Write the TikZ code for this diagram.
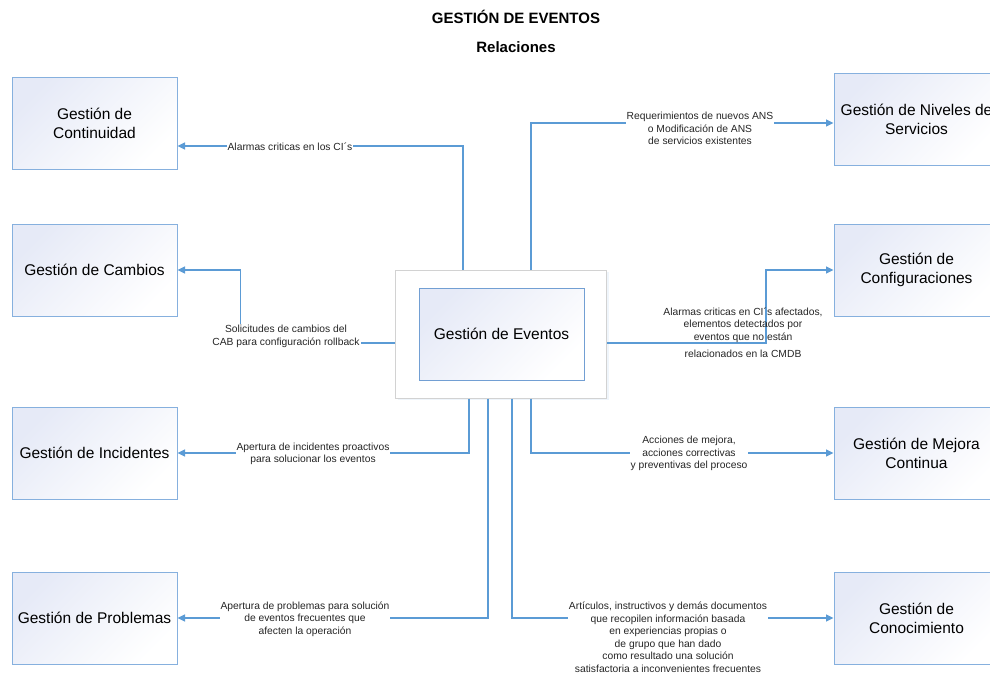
\documentclass[tikz,border=0pt]{standalone}
\usepackage{fontspec}
\setmainfont{Liberation Sans}
\usetikzlibrary{arrows.meta,shadows}
\definecolor{lineblue}{HTML}{5B9BD5}
\definecolor{boxedge}{HTML}{86B0DE}
\definecolor{inneredge}{HTML}{729FD3}
\definecolor{boxtop}{HTML}{E6EAF7}
\definecolor{outeredge}{HTML}{D2D2D2}
\definecolor{labeltext}{HTML}{262626}
\tikzset{
  procbox/.style={draw=boxedge, line width=1pt, top color=boxtop, bottom color=white,
    shading angle=45, minimum width=165pt, minimum height=92pt, align=center,
    font=\fontsize{15.5}{19}\selectfont, inner sep=0pt},
  outerbox/.style={draw=outeredge, line width=1pt, fill=white, minimum width=211pt,
    minimum height=128pt, inner sep=0pt,
    drop shadow={shadow xshift=2pt, shadow yshift=-2pt, fill=lineblue!12, opacity=0.8}},
  titletext/.style={font=\fontsize{15}{18}\selectfont\bfseries, inner sep=0pt},
  conn/.style={draw=lineblue, line width=1.2pt, -{Triangle[length=7.5pt,width=7pt]}},
  lbl/.style={font=\fontsize{10.3}{12.5}\selectfont, text=labeltext, align=center, inner sep=1pt},
  lblw/.style={lbl, fill=white}
}
\begin{document}
\begin{tikzpicture}[x=1pt,y=-1pt]
\clip (0,0) rectangle (990,673);
\fill[white] (0,0) rectangle (990,673);
% titles
\node[titletext] (t1) at (516,17) {GESTIÓN DE EVENTOS};
\node[titletext] (t2) at (516,47) {Relaciones};
% center
\node[outerbox] (ev) at (501,334) {};
\node[procbox, draw=inneredge] (evi) at (501.5,334) {Gestión de Eventos};
% left boxes
\node[procbox] (cont) at (94.5,123) {Gestión de\\Continuidad};
\node[procbox] (camb) at (94.5,270) {Gestión de Cambios};
\node[procbox] (inc) at (94.5,453) {Gestión de Incidentes};
\node[procbox] (prob) at (94.5,618) {Gestión de Problemas};
% right boxes
\node[procbox] (niv) at (916.5,119) {Gestión de Niveles de\\Servicios};
\node[procbox] (conf) at (916.5,270) {Gestión de\\Configuraciones};
\node[procbox] (mej) at (916.5,453) {Gestión de Mejora\\Continua};
\node[procbox] (con) at (916.5,618) {Gestión de\\Conocimiento};
% helper coordinates
\coordinate (x240) at (240.5,0);
\coordinate (x463) at (463,0);
\coordinate (x469) at (469,0);
\coordinate (x488) at (488,0);
\coordinate (x512) at (512,0);
\coordinate (x531) at (531,0);
\coordinate (x766) at (766,0);
\coordinate (y123) at (0,123);
\coordinate (y146) at (0,146);
\coordinate (y343) at (0,343);
% connectors
\draw[conn] (ev.north -| x463) |- (cont.east |- y146);
\draw[conn] (ev.west |- y343) -- (x240 |- y343) |- (camb.east);
\draw[conn] (ev.south -| x469) |- (inc.east);
\draw[conn] (ev.south -| x488) |- (prob.east);
\draw[conn] (ev.north -| x531) |- (niv.west |- y123);
\draw[conn] (ev.east |- y343) -| (x766 |- conf.west) -- (conf.west);
\draw[conn] (ev.south -| x531) |- (mej.west);
\draw[conn] (ev.south -| x512) |- (con.west);
% labels
\node[lblw] (l1) at (290,147) {Alarmas criticas en los CI´s};
\node[lblw] (l2) at (286,336.5) {Solicitudes de cambios del\\CAB para configuración rollback};
\node[lblw] (l3) at (313,454) {Apertura de incidentes proactivos\\para solucionar los eventos};
\node[lblw] (l4) at (305,619) {Apertura de problemas para solución\\de eventos frecuentes que\\afecten la operación};
\node[lblw] (l5) at (700,128.5) {Requerimientos de nuevos ANS\\o Modificación de ANS\\de servicios existentes};
\node[lbl] (l6) at (743,325) {Alarmas criticas en CI´s afectados,\\elementos detectados por\\eventos que no están};
\node[lbl] (l6b) at (743,354) {relacionados en la CMDB};
\node[lblw] (l7) at (689,453.5) {Acciones de mejora,\\acciones correctivas\\y preventivas del proceso};
\node[lblw] (l8) at (668,637) {Artículos, instructivos y demás documentos\\que recopilen información basada\\en experiencias propias o\\de grupo que han dado\\como resultado una solución\\satisfactoria a inconvenientes frecuentes};
\end{tikzpicture}
\end{document}
